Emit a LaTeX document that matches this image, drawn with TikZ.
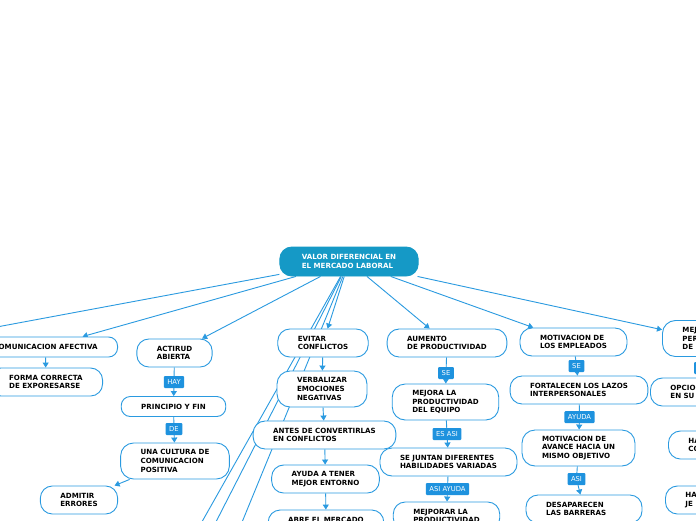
\documentclass[tikz,border=0pt]{standalone}
\usepackage{fontspec}
\setmainfont{DejaVu Sans}
\usetikzlibrary{arrows.meta}
\definecolor{lb}{RGB}{42,154,224}
\definecolor{rootc}{RGB}{21,153,198}
\definecolor{labc}{RGB}{30,146,222}
\pgfdeclarelayer{background}
\pgfsetlayers{background,main}
\begin{document}
\begin{tikzpicture}[x=1pt,y=-1pt,
  box/.style={draw=lb, line width=0.9pt, fill=white, rounded corners=12pt, align=left,
    font=\fontsize{7.1}{8.7}\selectfont\bfseries, inner xsep=20pt, inner ysep=0pt},
  hone/.style={box, minimum height=20pt, rounded corners=9pt},
  htwo/.style={box, minimum height=28pt},
  hthree/.style={box, minimum height=36pt, rounded corners=13pt},
  lab/.style={fill=labc, text=white, rounded corners=1pt, font=\fontsize{6.8}{8}\selectfont,
    inner xsep=3.5pt, inner ysep=0pt, minimum height=12pt},
  conn/.style={draw=lb, line width=0.9pt},
  arr/.style={conn, -{Triangle[width=6pt,length=5pt]}},
]
\useasboundingbox (0,0) rectangle (696,520);
\clip (0,0) rectangle (696,520);

% root
\node[htwo, fill=rootc, draw=rootc, text=white, minimum height=29pt, inner xsep=22pt] (root) at (349,261.5) {VALOR DIFERENCIAL EN\\EL MERCADO LABORAL};

% left branches
\node[hone, anchor=east] (com) at (118,347) {COMUNICACION AFECTIVA};
\node[htwo, anchor=east] (forma) at (103,382) {FORMA CORRECTA\\DE EXPORESARSE};
\node[htwo] (act) at (174.5,353) {ACTIRUD\\ABIERTA};
\node[lab] (hay) at (174,382) {HAY};
\node[hone] (pyf) at (173.5,406.5) {PRINCIPIO Y FIN};
\node[lab] (de) at (174,429) {DE};
\node[hthree] (cult) at (175,461) {UNA CULTURA DE\\COMUNICACION\\POSITIVA};
\node[htwo] (adm) at (79,500) {ADMITIR\\ERRORES};

% middle branch
\node[htwo] (evi) at (323,343) {EVITAR\\CONFLICTOS};
\node[hthree] (verb) at (322,389) {VERBALIZAR\\EMOCIONES\\NEGATIVAS};
\node[htwo] (antes) at (324.5,435) {ANTES DE CONVERTIRLAS\\EN CONFLICTOS};
\node[htwo] (ayud) at (325.5,479) {AYUDA A TENER\\MEJOR ENTORNO};
\node[htwo] (abre) at (326,524) {ABRE EL MERCADO\\~};

% productivity branch
\node[htwo] (aum) at (447,343) {AUMENTO\\DE PRODUCTIVIDAD};
\node[lab] (seone) at (446,373) {SE};
\node[hthree] (mej) at (445.5,402) {MEJORA LA\\PRODUCTIVIDAD\\DEL EQUIPO};
\node[lab] (esasi) at (447,434) {ES ASI};
\node[htwo] (junt) at (448.5,462) {SE JUNTAN DIFERENTES\\HABILIDADES VARIADAS};
\node[lab] (asiay) at (447.5,489) {ASI AYUDA};
\node[htwo] (mejp) at (446.5,516) {MEJPORAR LA\\PRODUCTIVIDAD};

% motivation branch
\node[htwo] (mot) at (573.5,342) {MOTIVACION DE\\LOS EMPLEADOS};
\node[lab] (setwo) at (576.5,366) {SE};
\node[htwo] (fort) at (579,390) {FORTALECEN LOS LAZOS\\INTERPERSONALES};
\node[lab] (ayu) at (579.5,417) {AYUDA};
\node[hthree] (motav) at (578.5,448) {MOTIVACION DE\\AVANCE HACIA UN\\MISMO OBJETIVO};
\node[lab] (asi) at (576.5,479) {ASI};
\node[htwo, text width=76pt] (desap) at (584,509) {DESAPARECEN\\LAS BARRERAS};

% right column (cut by the edge)
\node[hthree, anchor=west, text width=40pt] (mejr) at (662,338.5) {MEJ\\PER\\DE};
\node[lab, minimum width=20pt, anchor=west] (labr) at (694,368) {};
\node[htwo, anchor=west, text width=40pt] (opc) at (650,392) {OPCIO\\EN SU};
\node[htwo, anchor=west, text width=40pt] (hao) at (668,445) {HA\\CO};
\node[htwo, anchor=west, text width=40pt] (hat) at (665,500) {HA\\JE};

% off-canvas ends
\coordinate (farL) at (-100,345);
\coordinate (farA) at (180.4,560);
\coordinate (farB) at (196.5,560);
\coordinate (farC) at (226.5,560);

\begin{pgfonlayer}{background}
\fill[white] (0,0) rectangle (696,520);
\draw[conn] (root) -- (farL);
\draw[conn] (root) -- (farA);
\draw[conn] (root) -- (farB);
\draw[conn] (root) -- (farC);
\draw[arr] (root) -- (com);
\draw[arr] (root) -- (act);
\draw[arr] (root) -- (evi);
\draw[arr] (root) -- (aum);
\draw[arr] (root) -- (mot);
\draw[arr] (root) -- (mejr);

\draw[arr] (com) -- (forma);
\draw[conn] (act) -- (hay);
\draw[arr] (hay) -- (pyf);
\draw[conn] (pyf) -- (de);
\draw[arr] (de) -- (cult);
\draw[arr] (cult) -- (adm);

\draw[arr] (evi) -- (verb);
\draw[arr] (verb) -- (antes);
\draw[arr] (antes) -- (ayud);
\draw[arr] (ayud) -- (abre);

\draw[conn] (aum) -- (seone);
\draw[arr] (seone) -- (mej);
\draw[conn] (mej) -- (esasi);
\draw[arr] (esasi) -- (junt);
\draw[conn] (junt) -- (asiay);
\draw[arr] (asiay) -- (mejp);

\draw[conn] (mot) -- (setwo);
\draw[arr] (setwo) -- (fort);
\draw[conn] (fort) -- (ayu);
\draw[arr] (ayu) -- (motav);
\draw[conn] (motav) -- (asi);
\draw[arr] (asi) -- (desap);
\end{pgfonlayer}
\end{tikzpicture}
\end{document}
